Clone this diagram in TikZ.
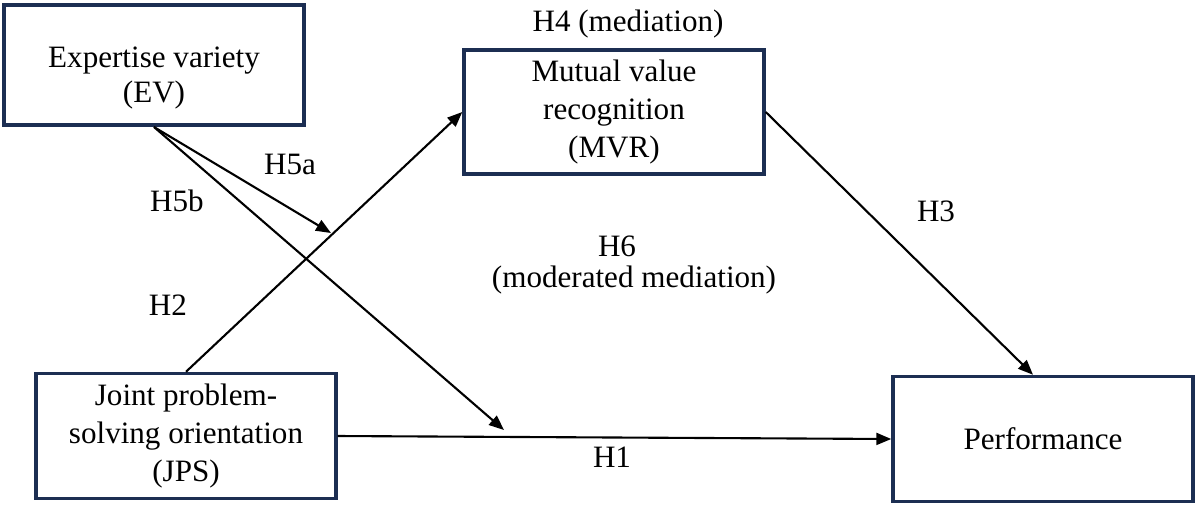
\documentclass[tikz,border=0pt]{standalone}
\usepackage{fontspec}
\setmainfont{Liberation Serif}
\usetikzlibrary{arrows.meta}
\definecolor{boxblue}{RGB}{28,46,82}
\begin{document}
\begin{tikzpicture}[x=0.02cm,y=-0.02cm,
        every node/.style={font=\fontsize{17.7}{21.8}\selectfont},
        var/.style={draw=boxblue,line width=2pt,align=center,minimum width=6cm,minimum height=2.5cm},
        hyp/.style={line width=1.2pt,-{Triangle[length=0.3cm,width=0.24cm]}}]
            \useasboundingbox (0,0) rectangle (1200,505);
            \node[var,minimum height=2.41cm] (ev) at (154,65) {};
            \node[align=center,font=\fontsize{17.7}{19.8}\selectfont] (evtext) at (154,78) {Expertise variety\\(EV)};
            \node[var,minimum height=2.48cm] (mvr) at (614,112) {Mutual value\\recognition\\(MVR)};
            \node[var] (jps) at (186,436) {Joint problem-\\solving orientation\\(JPS)};
            \node[var] (perf) at (1043,439) {Performance};
            \coordinate (h5aend) at (331,233);
            \coordinate (h5bend) at (504,430);
            \draw[hyp] (jps.north) -- (mvr.west);
            \draw[hyp] (jps.east) -- (perf.west);
            \draw[hyp] (mvr.east) -- ([xshift=-0.2cm]perf.north);
            \draw[hyp] (ev.south) -- (h5aend);
            \draw[hyp] (ev.south) -- (h5bend);
            \node (h4) at (628,24) {H4 (mediation)};
            \node (h5a) at (290,164) {H5a};
            \node (h5b) at (177,201) {H5b};
            \node (h2) at (168,305) {H2};
            \node (h3) at (936,211) {H3};
            \node (h1) at (612,457) {H1};
            \node (h6) at (617,246) {H6};
            \node (modmed) at (634,280) {(moderated mediation)};
        \end{tikzpicture}
\end{document}
